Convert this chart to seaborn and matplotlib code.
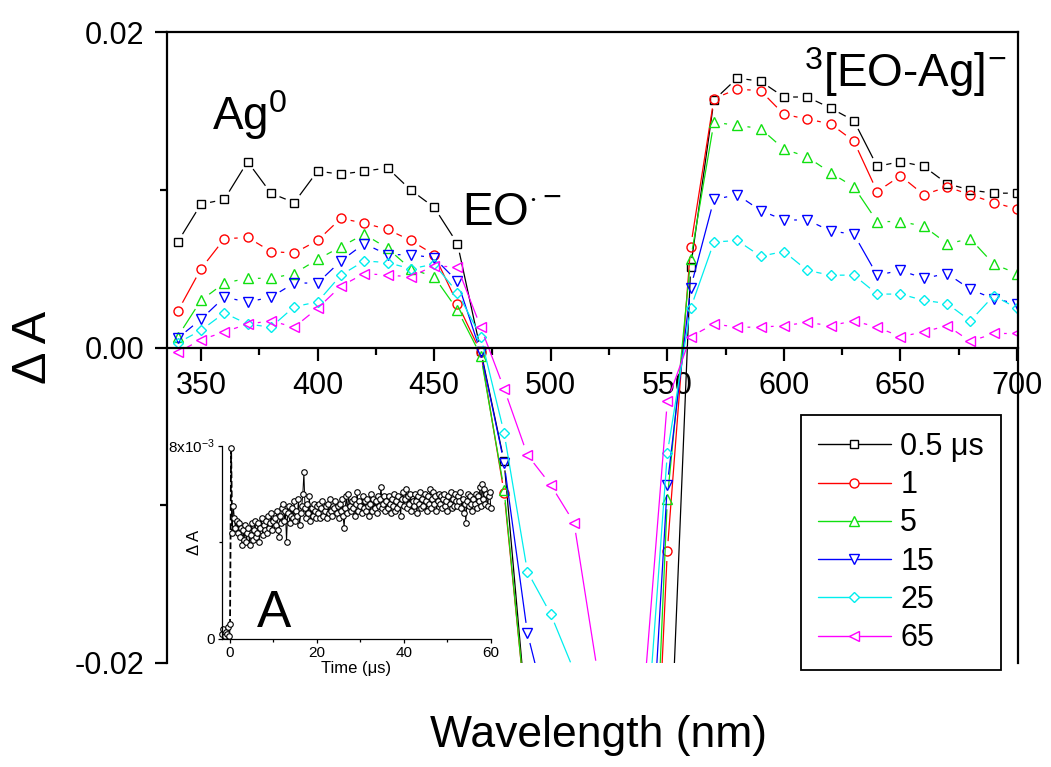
import numpy as np
import matplotlib
matplotlib.use("Agg")
import matplotlib.pyplot as plt
from matplotlib.lines import Line2D
from matplotlib.path import Path
from matplotlib.ticker import FixedLocator, FormatStrFormatter
import seaborn as sns

sns.set_theme(style="ticks")
plt.rcParams["font.family"] = ["Liberation Sans", "DejaVu Sans"]
plt.rcParams["mathtext.fontset"] = "custom"
plt.rcParams["mathtext.rm"] = "Liberation Sans"
plt.rcParams["mathtext.it"] = "Liberation Sans"
plt.rcParams["mathtext.sf"] = "Liberation Sans"
plt.rcParams["mathtext.bf"] = "Liberation Sans:bold"
for key in ["text.color", "axes.labelcolor", "xtick.color", "ytick.color", "axes.edgecolor"]:
    plt.rcParams[key] = "black"

# transient spectra, delta A vs wavelength (nm)
wavelength = [340, 350, 360, 370, 380, 390, 400, 410, 420, 430, 440, 450, 460, 470,
              480, 490, 500, 510, 520, 530, 540, 550, 560, 570, 580, 590, 600, 610,
              620, 630, 640, 650, 660, 670, 680, 690, 700]
da_0_5us = [0.0067, 0.0091, 0.0094, 0.0118, 0.0098, 0.0092, 0.0112, 0.0110, 0.0112, 0.0114,
            0.0100, 0.0089, 0.0066, -0.0002, -0.0072, -0.024, -0.035, -0.040, -0.040, -0.040,
            -0.040, -0.031, 0.0051, 0.0157, 0.0171, 0.0169, 0.0159, 0.0159, 0.0152, 0.0144,
            0.0115, 0.0118, 0.0115, 0.0104, 0.0100, 0.0098, 0.0098]
da_1us = [0.0023, 0.0050, 0.0069, 0.0070, 0.0061, 0.0060, 0.0068, 0.0082, 0.0079, 0.0075,
          0.0068, 0.0059, 0.0028, -0.0003, -0.0092, -0.024, -0.035, -0.040, -0.040, -0.040,
          -0.045, -0.0129, 0.0064, 0.0158, 0.0164, 0.0163, 0.0148, 0.0145, 0.0142, 0.0131,
          0.0099, 0.0109, 0.0097, 0.0102, 0.0097, 0.0092, 0.0088]
da_5us = [0.0007, 0.0030, 0.0041, 0.0044, 0.0044, 0.0047, 0.0056, 0.0064, 0.0072, 0.0063,
          0.0050, 0.0045, 0.0024, -0.0005, -0.0090, -0.024, -0.035, -0.040, -0.040, -0.040,
          -0.044, -0.0096, 0.0056, 0.0143, 0.0141, 0.0139, 0.0126, 0.0121, 0.0111, 0.0102,
          0.0080, 0.0080, 0.0077, 0.0066, 0.0069, 0.0053, 0.0047]
da_15us = [0.0006, 0.0018, 0.0032, 0.0029, 0.0032, 0.0041, 0.0041, 0.0055, 0.0066, 0.0059,
           0.0059, 0.0057, 0.0042, -0.0003, -0.0073, -0.0181, -0.024, -0.040, -0.040, -0.040,
           -0.034, -0.0087, 0.0038, 0.0094, 0.0097, 0.0087, 0.0081, 0.0081, 0.0074, 0.0072,
           0.0046, 0.0049, 0.0044, 0.0047, 0.0037, 0.0031, 0.0028]
da_25us = [0.0003, 0.0011, 0.0022, 0.0015, 0.0013, 0.0026, 0.0029, 0.0046, 0.0055, 0.0054,
           0.0050, 0.0053, 0.0035, 0.0007, -0.0054, -0.0142, -0.0169, -0.0205, -0.030, -0.030,
           -0.027, -0.0067, 0.0025, 0.0067, 0.0068, 0.0058, 0.0061, 0.0049, 0.0046, 0.0046,
           0.0034, 0.0034, 0.0030, 0.0028, 0.0017, 0.0033, 0.0025]
da_65us = [-0.0003, 0.0005, 0.0010, 0.0015, 0.0017, 0.0013, 0.0025, 0.0039, 0.0047, 0.0046,
           0.0045, 0.0052, 0.0051, 0.0013, -0.0026, -0.0068, -0.0087, -0.0111, -0.0205, -0.030,
           -0.022, -0.0034, 0.0007, 0.0015, 0.0013, 0.0013, 0.0014, 0.0016, 0.0014, 0.0017,
           0.0013, 0.0007, 0.0010, 0.0014, 0.0004, 0.0009, 0.0009]
delay_labels = ["0.5 μs", "1", "5", "15", "25", "65"]
series_colors = ["#000000", "#ff0000", "#10e010", "#0000ff", "#00eeee", "#ff00ff"]
series_markers = ["s", "o", "^", "v", "D", "<"]
series_sizes = [5.5, 6.5, 7, 7, 5.5, 7]

# inset: kinetic trace, delta A (x10^-3) sampled every 0.25 us from -1.75 us
trace_t0 = -1.75
trace_dt = 0.25
trace_mA = [0.2, 0.4, 0.1, 0.3, 0.2, 0.5, 0.1, 0.6, 7.9, 4.4,
            5.5, 5.0, 4.6, 4.9, 4.4, 4.8,
            4.2, 4.6, 3.9, 4.5, 4.1, 4.7, 4.0, 4.4,
            4.6, 3.9, 4.3, 4.8, 4.1, 4.5, 4.9, 4.2,
            4.4, 4.8, 4.0, 4.6, 5.0, 4.3, 4.7, 4.5,
            4.9, 4.4, 5.1, 4.6, 4.8, 5.2, 4.5, 4.9,
            5.0, 4.7, 5.3, 4.5, 4.2, 5.1, 4.8, 5.4,
            5.6, 4.9, 5.3, 4.0, 5.2, 5.5, 4.8, 5.1,
            5.4, 5.0, 5.7, 4.9, 5.3, 5.1, 5.8, 4.7,
            5.2, 5.5, 6.0, 6.9, 5.4, 5.0, 5.6, 5.2,
            5.9, 4.9, 5.4, 5.1, 5.6, 5.3, 5.0, 5.5,
            5.2, 5.6, 5.0, 5.4, 5.7, 5.1, 5.3, 5.5,
            5.0, 5.6, 5.2, 5.8, 5.3, 5.1, 5.5, 5.4,
            5.7, 5.2, 5.5, 5.0, 5.6, 5.3, 5.8, 5.1,
            4.6, 5.4, 5.9, 5.2, 6.0, 5.5, 5.3, 5.7,
            5.4, 5.8, 5.1, 5.6, 6.1, 5.3, 5.7, 5.5,
            5.2, 5.9, 5.4, 5.7, 5.3, 5.8, 5.5, 5.1,
            5.6, 6.0, 5.3, 5.8, 5.4, 5.7, 5.2, 5.9,
            5.5, 5.8, 6.3, 5.4, 5.6, 5.9, 5.3, 5.7,
            5.4, 5.9, 5.6, 5.2, 5.8, 5.5, 6.0, 5.3,
            5.7, 5.4, 5.9, 5.6, 5.1, 5.8, 6.1, 5.5,
            5.8, 6.2, 5.4, 5.9, 5.6, 6.0, 5.3, 5.7,
            5.5, 6.0, 5.7, 5.2, 5.9, 5.6, 6.1, 5.4,
            5.8, 5.5, 6.0, 5.7, 5.3, 5.9, 5.6, 6.2,
            5.4, 5.8, 6.1, 5.6, 5.9, 5.3, 5.7, 6.0,
            5.6, 5.9, 5.4, 5.8, 6.0, 5.5, 5.7, 5.3,
            5.9, 5.6, 6.1, 5.4, 5.8, 5.5, 6.0, 5.7,
            5.5, 5.9, 5.7, 6.1, 5.4, 5.8, 5.2, 5.6,
            4.8, 5.7, 6.0, 5.5, 5.9, 5.6, 5.3, 5.8,
            5.6, 6.0, 5.4, 5.9, 5.7, 6.3, 5.5, 6.4,
            5.8, 6.2, 5.6, 6.0, 5.5, 5.9, 6.1, 5.4]
n_rise = 10  # first points (baseline + flash) drawn with a dashed line

fig = plt.figure(figsize=(10.51, 7.67), dpi=100)
ax = fig.add_axes([0.1586, 0.1356, 0.8100, 0.8222])
xlim = (335.3, 700.4)
ylim = (-0.02, 0.02)
ax.set_xlim(*xlim)
ax.set_ylim(*ylim)

# px per data unit, used to leave a gap in each line around its own symbols
x_scale = (ax.transData.transform((1, 0)) - ax.transData.transform((0, 0)))[0]
y_scale = (ax.transData.transform((0, 1)) - ax.transData.transform((0, 0)))[1]
ring = np.linspace(0, 2 * np.pi, 25)


def gap_path(xs, ys, r_px):
    verts = [(xlim[0], ylim[0]), (xlim[1], ylim[0]), (xlim[1], ylim[1]),
             (xlim[0], ylim[1]), (xlim[0], ylim[0])]
    codes = [Path.MOVETO, Path.LINETO, Path.LINETO, Path.LINETO, Path.CLOSEPOLY]
    for xi, yi in zip(xs, ys):
        cx = xi + r_px / x_scale * np.cos(ring)
        cy = yi - r_px / y_scale * np.sin(ring)
        verts += list(zip(cx, cy))
        codes += [Path.MOVETO] + [Path.LINETO] * (len(ring) - 2) + [Path.CLOSEPOLY]
    return Path(verts, codes)


all_series = [da_0_5us, da_1us, da_5us, da_15us, da_25us, da_65us]
handles = []
for vals, col, mk, ms in zip(all_series, series_colors, series_markers, series_sizes):
    sns.lineplot(x=wavelength, y=vals, color=col, lw=0.9, ax=ax, sort=False,
                 errorbar=None, legend=False)
    line = ax.lines[-1]
    line.set_clip_path(gap_path(wavelength, vals, ms / 2 * 100 / 72 + 5.5), ax.transData)
    ax.plot(wavelength, vals, ls="none", marker=mk, ms=ms, mfc="none", mec=col, mew=1.0)
    handles.append(Line2D([0], [0], color=col, lw=1.0, marker=mk, ms=ms,
                          mfc="white", mec=col, mew=1.0))

ax.set_xlim(*xlim)
ax.set_ylim(*ylim)
ax.spines["bottom"].set_position(("data", 0))
for side in ["left", "right", "top", "bottom"]:
    ax.spines[side].set_linewidth(1.6)
    ax.spines[side].set_color("black")
ax.xaxis.set_major_locator(FixedLocator([350, 400, 450, 500, 550, 600, 650, 700]))
ax.xaxis.set_minor_locator(FixedLocator([375, 425, 475, 525, 575, 625, 675]))
ax.yaxis.set_major_locator(FixedLocator([-0.02, 0.0, 0.02]))
ax.yaxis.set_minor_locator(FixedLocator([-0.01, 0.01]))
ax.yaxis.set_major_formatter(FormatStrFormatter("%.2f"))
ax.tick_params(which="major", direction="out", length=9, width=1.6, labelsize=22,
               color="black", labelcolor="black")
ax.tick_params(which="minor", direction="out", length=5, width=1.6, color="black")
ax.tick_params(axis="x", which="both", pad=8)
ax.tick_params(axis="y", which="both", pad=7)
ax.set_ylabel("Δ A", fontsize=35, color="black")
ax.yaxis.set_label_coords(-0.13, 0.5)
ax.set_xlabel("Wavelength (nm)", fontsize=32, color="black")
ax.xaxis.set_label_coords(0.507, -0.083)

ax.text(354.6, 0.01383, r"Ag$^{0}$", fontsize=33, va="baseline", color="black")
ax.text(461.8, 0.0078, r"EO$^{\cdot -}$", fontsize=33, va="baseline", color="black")
ax.text(608.5, 0.01655, r"$^{3}$[EO-Ag]$^{-}$", fontsize=33, va="baseline", color="black")

leg = ax.legend(handles, delay_labels, loc="upper left", bbox_to_anchor=(0.745, 0.393),
                fontsize=22, frameon=True, fancybox=False, edgecolor="black",
                handlelength=2.4, handletextpad=0.3, labelspacing=0.27,
                borderpad=0.55, borderaxespad=0)
leg.get_frame().set_linewidth(1.3)
leg.get_frame().set_alpha(1)

# inset kinetic trace
axin = fig.add_axes([0.211, 0.167, 0.256, 0.252])
trace_t = trace_t0 + trace_dt * np.arange(len(trace_mA))
trace_v = np.array(trace_mA) * 1e-3
axin.plot(trace_t[:n_rise], trace_v[:n_rise], ls="--", color="black", lw=1.3)
sns.lineplot(x=trace_t[n_rise - 1:], y=trace_v[n_rise - 1:], color="black", lw=0.7,
             ax=axin, sort=False, errorbar=None, legend=False)
axin.plot(trace_t, trace_v, ls="none", marker="o", ms=4, mfc="white", mec="black",
          mew=0.8, clip_on=False)
axin.set_xlim(-1.9, 60)
axin.set_ylim(0, 0.008)
axin.patch.set_alpha(0)
for side in ["top", "right"]:
    axin.spines[side].set_visible(False)
for side in ["left", "bottom"]:
    axin.spines[side].set_linewidth(0.9)
    axin.spines[side].set_color("black")
axin.xaxis.set_major_locator(FixedLocator([0, 20, 40, 60]))
axin.xaxis.set_minor_locator(FixedLocator([10, 30, 50]))
axin.yaxis.set_major_locator(FixedLocator([0, 0.008]))
axin.yaxis.set_minor_locator(FixedLocator([0.004]))
axin.set_yticklabels(["0", r"8x10$^{-3}$"])
axin.tick_params(which="major", direction="out", length=3, width=0.9, labelsize=11,
                 pad=2, color="black", labelcolor="black")
axin.tick_params(which="minor", direction="out", length=2, width=0.9, color="black")
axin.set_xlabel("Time (μs)", fontsize=12, labelpad=1, color="black")
axin.set_ylabel("Δ A", fontsize=12, color="black")
axin.yaxis.set_label_coords(-0.075, 0.5)
axin.text(0.13, 0.064, "A", transform=axin.transAxes, fontsize=37, va="baseline",
          color="black")

fig.savefig("out.png", dpi=100, facecolor="white")
